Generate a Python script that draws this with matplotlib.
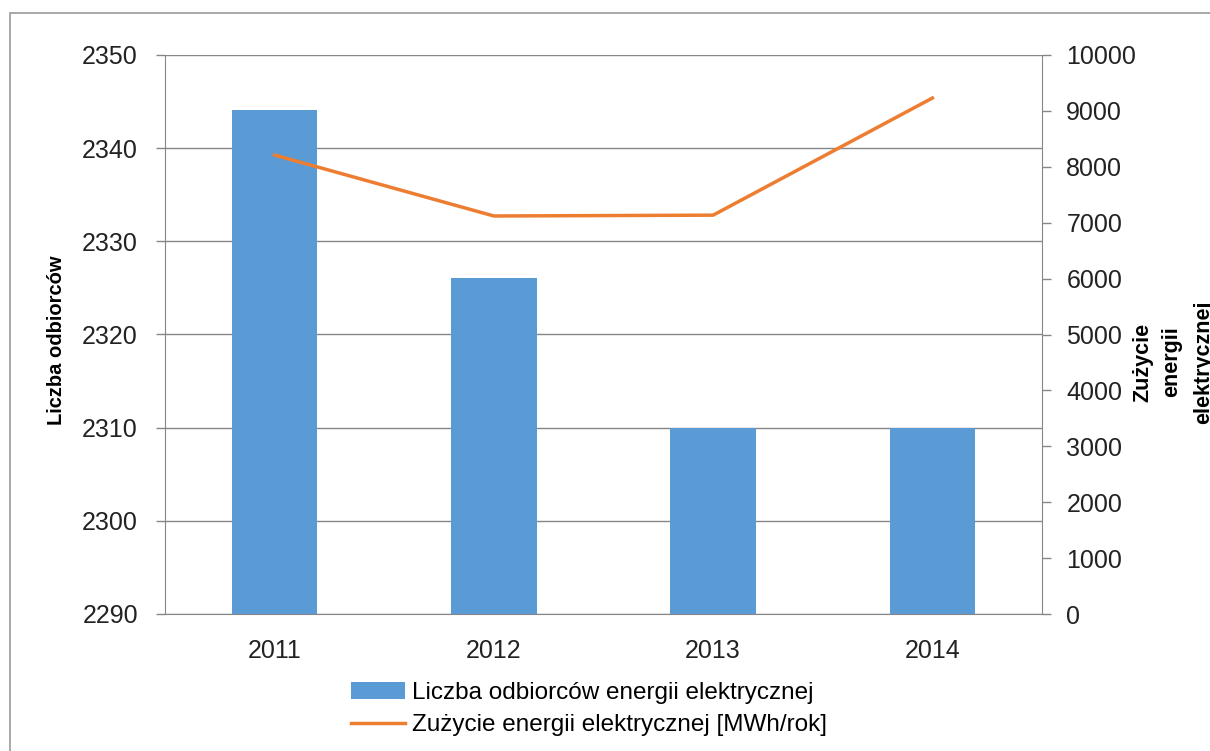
import numpy as np
import matplotlib.pyplot as plt
from matplotlib.patches import Rectangle

plt.rcParams['font.family'] = ['Liberation Sans', 'DejaVu Sans']

# Dane
years = ['2011', '2012', '2013', '2014']
odbiorcy = [2344.1, 2326.1, 2310, 2310]
zuzycie = [8210, 7120, 7135, 9230]

blue = '#5B9BD5'
orange = '#ED7D31'
grey = '#868686'

fig = plt.figure(figsize=(12.1, 7.51), dpi=100)
ax = fig.add_axes([165/1210, 1 - 614/751, (1042 - 165)/1210, (614 - 55)/751])

x = np.arange(len(years))
ax.bar(x, np.array(odbiorcy) - 2290, bottom=2290, width=0.39, color=blue, zorder=3,
       label='Liczba odbiorców energii elektrycznej')
ax.set_xlim(-0.5, 3.5)
ax.set_ylim(2290, 2350)
ax.set_yticks(np.arange(2290, 2351, 10))
ax.set_xticks(x)
ax.set_xticklabels(years)
ax.yaxis.grid(True, color=grey, linewidth=1, zorder=0)
ax.tick_params(axis='x', length=0, pad=18, labelsize=18, colors='#222222')
ax.tick_params(axis='y', length=6.5, width=1, color=grey, pad=13, labelsize=18,
               labelcolor='#222222')
for s in ['top', 'right']:
    ax.spines[s].set_visible(False)
ax.spines['left'].set_color(grey)
ax.spines['bottom'].set_color(grey)

fig.text(57/1210, 1 - 340/751, 'Liczba odbiorców', rotation=90, fontsize=14.5,
         fontweight='bold', ha='center', va='center')

ax2 = ax.twinx()
ax2.plot(x, zuzycie, color=orange, linewidth=2.5, zorder=4,
         label='Zużycie energii elektrycznej [MWh/rok]')
ax2.set_ylim(0, 10000)
ax2.set_yticks(np.arange(0, 10001, 1000))
ax2.tick_params(axis='y', length=6.5, width=1, color=grey, pad=11, labelsize=18,
                labelcolor='#222222')
for s in ['top', 'left', 'bottom']:
    ax2.spines[s].set_visible(False)
ax2.spines['right'].set_color(grey)

for xp, txt in [(1143, 'Zużycie'), (1172, 'energii'), (1204, 'elektrycznej')]:
    fig.text(xp/1210, 1 - 362/751, txt, rotation=90, fontsize=15.5,
             fontweight='bold', ha='center', va='center')

h1, l1 = ax.get_legend_handles_labels()
h2, l2 = ax2.get_legend_handles_labels()
fig.legend(h1 + h2, l1 + l2, loc='center', bbox_to_anchor=(589/1210, 1 - 709/751),
           frameon=False, fontsize=17.5, handlelength=2.2, handletextpad=0.3,
           labelspacing=0.45, borderpad=0, borderaxespad=0)

fig.patches.append(Rectangle((10/1210, -0.1), 1.2, 1.1 - 13/751, transform=fig.transFigure,
                             fill=False, edgecolor='#9a9a9a', linewidth=1.2))

fig.savefig('out.png', dpi=100)
